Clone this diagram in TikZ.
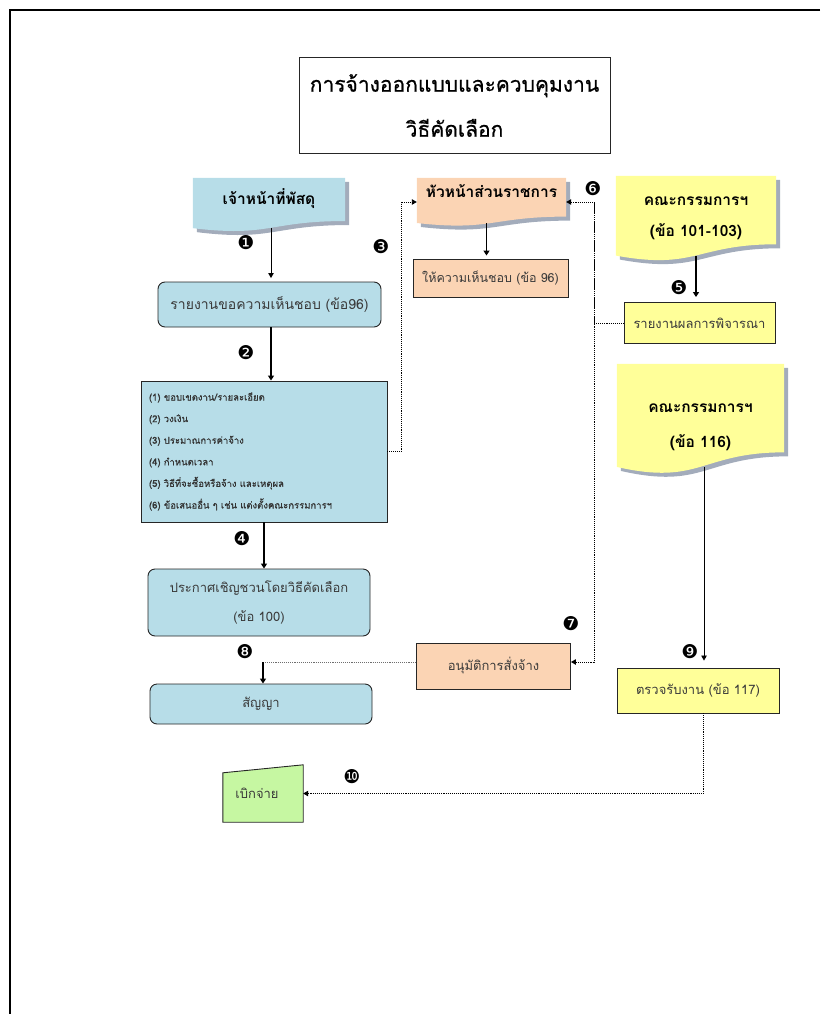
\documentclass[tikz,border=0pt]{standalone}
\usepackage{fontspec}
\setmainfont{Loma}[Script=Thai]
\newfontfamily\titlefont{Loma}[Script=Thai, FakeBold=0.7]
\newfontfamily\smallfont{Loma}[Script=Thai, FakeBold=0.7]
\newfontfamily\dingfont{DejaVu Sans}
\usetikzlibrary{calc,arrows.meta}

\definecolor{cblue}{HTML}{B7DDE8}
\definecolor{cpeach}{HTML}{FBD4B4}
\definecolor{cyellow}{HTML}{FFFF99}
\definecolor{cgreen}{HTML}{C6F7A2}
\definecolor{cshadow}{HTML}{A3ACBB}
\definecolor{ctext}{HTML}{3A3A3A}
\definecolor{cdot}{HTML}{6E6E6E}

% flowchart "document" shape drawn under an (invisible) node: straight top,
% wavy bottom edge, soft grey drop shadow
\newcommand\docshape[2]{%
  \fill[cshadow] let \p1=(#1.north west), \p2=(#1.south east), \n1={\y1-\y2} in
    ({\x1+4pt},{\y1-4pt}) -- ({\x2+4pt},{\y1-4pt}) -- ({\x2+4pt},{\y1-0.802*\n1-4pt})
    .. controls ({(\x1+\x2)/2+4pt},{\y1-0.802*\n1-4pt}) and ({(\x1+\x2)/2+4pt},{\y1-1.107*\n1-4pt})
    .. ({\x1+4pt},{\y1-0.934*\n1-4pt}) -- cycle;
  \fill[#2] let \p1=(#1.north west), \p2=(#1.south east), \n1={\y1-\y2} in
    (\x1,\y1) -- (\x2,\y1) -- (\x2,{\y1-0.802*\n1})
    .. controls ({(\x1+\x2)/2},{\y1-0.802*\n1}) and ({(\x1+\x2)/2},{\y1-1.107*\n1})
    .. (\x1,{\y1-0.934*\n1}) -- cycle;
}

\begin{document}
\begin{tikzpicture}[x=1pt,y=-1pt,
  plain/.style={draw=black!85, line width=0.9pt, inner sep=2pt, text=ctext,
                font=\fontsize{13}{15}\selectfont},
  roundbox/.style={plain, rounded corners=7pt, fill=cblue},
  docnode/.style={inner sep=0pt, font=\bfseries\fontsize{15.5}{31}\selectfont, align=center},
  num/.style={font=\dingfont\fontsize{19}{19}\selectfont, inner sep=0pt},
  thinarr/.style={line width=0.8pt, -{Triangle[length=5pt,width=5.5pt]}},
  thickarr/.style={line width=1.8pt, -{Triangle[length=5pt,width=6pt]}},
  dotline/.style={cdot, line width=0.9pt, densely dotted},
  dotarr/.style={dotline, -{Triangle[length=5pt,width=5.5pt]}, black}
]
\useasboundingbox (0,0) rectangle (820,1014);

% page frame (top and left rules)
\draw[line width=1.6pt] (820,10) -- (10,10) -- (10,1014);

% title
\node[draw=black!85, line width=1pt, minimum width=311pt, minimum height=95pt,
      align=center, font=\titlefont\fontsize{21}{45}\selectfont]
  (title) at (454.5,105.5) {การจ้างออกแบบและควบคุมงาน\\วิธีคัดเลือก};

% --- document-shaped headers (placeholders, painted below) ----------------
\node[docnode, minimum width=152pt, minimum height=53.5pt] (staff) at (269,204.75) {};
\node[docnode, minimum width=149pt, minimum height=48pt] (head) at (491.5,202) {};
\node[docnode, minimum width=160pt, minimum height=85pt] (comA) at (696,218.5) {};
\node[docnode, minimum width=167pt, minimum height=110pt] (comB) at (700.5,419) {};

% --- process boxes -------------------------------------------------------
\node[roundbox, minimum width=223pt, minimum height=45pt,
      font=\fontsize{14}{16}\selectfont] (ask) at (269.5,304.5)
  {รายงานขอความเห็นชอบ (ข้อ96)};
\node[plain, fill=cblue, minimum width=246pt, minimum height=141pt,
      inner xsep=8pt, text width=230pt, align=left, text=black!80,
      font=\smallfont\fontsize{9.5}{21.6}\selectfont] (list) at (264,451.5)
  {(1) ขอบเขตงาน/รายละเอียด\\
   (2) วงเงิน\\
   (3) ประมาณการค่าจ้าง\\
   (4) กำหนดเวลา\\
   (5) วิธีที่จะซื้อหรือจ้าง และเหตุผล\\
   (6) ข้อเสนออื่น ๆ เช่น แต่งตั้งคณะกรรมการฯ};
\node[roundbox, minimum width=222pt, minimum height=67pt, align=center,
      font=\fontsize{13}{29}\selectfont] (invite) at (259,602.5)
  {ประกาศเชิญชวนโดยวิธีคัดเลือก\\(ข้อ 100)};
\node[roundbox, minimum width=222pt, minimum height=40pt] (contract) at (261,704)
  {สัญญา};
\node[plain, fill=cpeach, minimum width=155pt, minimum height=38pt,
      font=\fontsize{12.5}{15}\selectfont] (agree) at (490.5,278)
  {ให้ความเห็นชอบ (ข้อ 96)};
\node[plain, fill=cpeach, minimum width=154pt, minimum height=46pt] (approve) at (493.5,666)
  {อนุมัติการสั่งจ้าง};
\node[plain, fill=cyellow, minimum width=151pt, minimum height=41pt] (result) at (699.5,323)
  {รายงานผลการพิจารณา};
\node[plain, fill=cyellow, minimum width=162pt, minimum height=45pt] (inspect) at (698,690.5)
  {ตรวจรับงาน (ข้อ 117)};
\node[inner sep=0pt, minimum width=80pt, minimum height=57pt] (pay) at (263,793.5) {};

% paint the document shapes and the slanted-top payment box
\docshape{staff}{cblue}
\docshape{head}{cpeach}
\docshape{comA}{cyellow}
\docshape{comB}{cyellow}
\filldraw[fill=cgreen, draw=black!85, line width=0.9pt]
  ([yshift=-8pt]pay.north west) -- (pay.north east) -- (pay.south east) -- (pay.south west) -- cycle;

% header and payment texts on top of their fills
\node[docnode] at ([yshift=6pt]staff.center) {เจ้าหน้าที่พัสดุ};
\node[docnode] at ([yshift=11pt]head.center) {หัวหน้าส่วนราชการ};
\node[docnode] at (comA.center) {คณะกรรมการฯ\\(ข้อ 101-103)};
\node[docnode, font=\bfseries\fontsize{15.5}{35}\selectfont] at ([yshift=-8pt]comB.center)
  {คณะกรรมการฯ\\(ข้อ 116)};
\node[text=ctext, font=\fontsize{13}{15}\selectfont] at ([xshift=-6pt]pay.center) {เบิกจ่าย};

% --- connectors ------------------------------------------------------------
\draw[thinarr] ([xshift=2pt,yshift=3.5pt]staff.south) -- ([xshift=2pt,yshift=3.5pt]staff.south |- ask.north);
\draw[thickarr] ([xshift=1.5pt]ask.south) -- ([xshift=1.5pt]ask.south |- list.north);
\draw[thickarr] (list.south) -- (list.south |- invite.north);
\draw[thickarr] ([xshift=-5pt,yshift=3pt]head.south) -- ([xshift=-5pt,yshift=3pt]head.south |- agree.north);
\draw[thickarr] ([yshift=5pt]comA.south) -- ([yshift=5pt]comA.south |- result.north);
\draw[thinarr] ([xshift=3.5pt,yshift=7pt]comB.south) -- ([xshift=3.5pt,yshift=7pt]comB.south |- inspect.north);

% dotted routes
\coordinate (bus) at (594,202);
\draw[dotarr] (list.east) -- ++(14,0) |- (head.west);
\draw[dotarr] (result.west) -| (bus) -- (head.east);
\draw[dotarr] (bus) |- ([yshift=4pt]approve.east);
\draw[dotline] ([yshift=4pt]approve.west) -- ([xshift=2pt,yshift=4pt]approve.west -| contract.north);
\draw[thickarr, line width=1.4pt] ([xshift=2pt,yshift=4pt]approve.west -| contract.north) -- ([xshift=2pt]contract.north);
\draw[dotarr] ([xshift=5.5pt]inspect.south) |- (pay.east);

% step numbers
\node[num] (n1) at (246,243) {❶};
\node[num] (n2) at (246,353) {❷};
\node[num] (n3) at (381,247) {❸};
\node[num] (n4) at (242,539) {❹};
\node[num] (n5) at (679,288) {❺};
\node[num] (n6) at (593,189) {❻};
\node[num] (n7) at (571,624) {❼};
\node[num] (n8) at (245,652) {❽};
\node[num] (n9) at (690,652) {❾};
\node[num] (n10) at (352,777) {❿};
\end{tikzpicture}
\end{document}
